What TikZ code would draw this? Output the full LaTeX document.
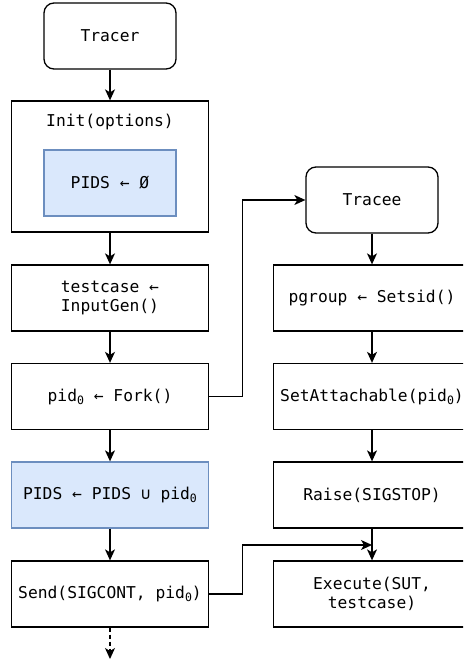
\documentclass[tikz,border=0pt]{standalone}
\usepackage{fontspec}
\setmonofont{DejaVu Sans Mono}
\usetikzlibrary{arrows.meta}
\definecolor{bluefill}{HTML}{DAE8FC}
\definecolor{bluedraw}{HTML}{6C8EBF}
\newcommand{\zsub}{\raisebox{-0.35ex}{\fontsize{11.5}{12}\selectfont 0}}
\tikzset{
  every node/.style={font=\fontsize{16.3}{19}\selectfont\ttfamily, align=center, inner sep=0pt},
  proc/.style={draw, line width=1.3pt, minimum width=197pt, minimum height=66pt},
  term/.style={draw, line width=1.3pt, rounded corners=10pt, minimum width=132pt, minimum height=66pt},
  hl/.style={draw=bluedraw, line width=1.3pt, fill=bluefill, minimum width=197pt, minimum height=66pt},
  conn/.style={line width=1.3pt, -{Stealth[length=11pt, width=10pt, inset=3pt]}},
}
\begin{document}
\begin{tikzpicture}[x=1pt,y=-1pt]
\useasboundingbox (0,0) rectangle (463,660);
\clip (0,0) rectangle (463,660);
% left column
\node[term] (tracer) at (110,36) {Tracer};
\node[proc, minimum height=131pt] (init) at (110,166.5) {};
\node (inittxt) at (110,122) {Init(options)};
\node[hl, minimum width=132pt] (pids0) at (110,183) {PIDS ← Ø};
\node[proc] (gen) at (110,298) {testcase ←\\InputGen()};
\node[proc] (fork) at (110,396.5) {pid\zsub{} ← Fork()};
\node[hl] (pidsu) at (110,495) {PIDS ← PIDS ∪ pid\zsub};
\node[proc] (send) at (110,594) {Send(SIGCONT, pid\zsub)};
\coordinate (end) at (110,659);
% right column
\node[term] (tracee) at (372,200) {Tracee};
\node[proc] (setsid) at (372,298) {pgroup ← Setsid()};
\node[proc] (attach) at (372,396.5) {SetAttachable(pid\zsub)};
\node[proc] (raise) at (372,495) {Raise(SIGSTOP)};
\node[proc] (exec) at (372,594) {Execute(SUT,\\testcase)};
% connectors
\draw[conn] (tracer) -- (init);
\draw[conn] (init) -- (gen);
\draw[conn] (gen) -- (fork);
\draw[conn] (fork) -- (pidsu);
\draw[conn] (pidsu) -- (send);
\draw[conn, dash pattern=on 4pt off 3pt] (send) -- (end);
\draw[conn] (tracee) -- (setsid);
\draw[conn] (setsid) -- (attach);
\draw[conn] (attach) -- (raise);
\draw[conn] (raise) -- (exec);
\coordinate (mid) at (372,545);
\draw[conn] (fork.east) -- ++(33,0) |- (tracee.west);
\draw[conn] (send.east) -- ++(33,0) |- (mid);
\end{tikzpicture}
\end{document}
